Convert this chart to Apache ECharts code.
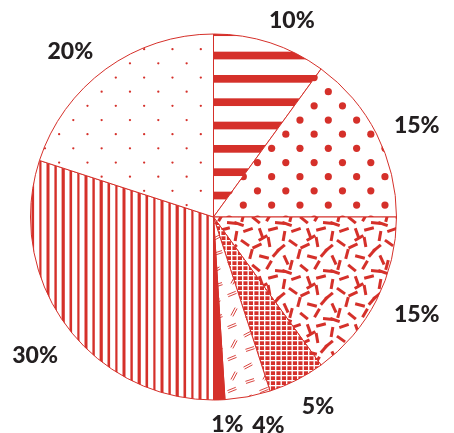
<!DOCTYPE html>
<html>
<head>
<meta charset="utf-8">
<script src="https://cdn.jsdelivr.net/npm/echarts@6/dist/echarts.min.js"></script>
<style>
html,body{margin:0;padding:0;background:#fff;}
#chart{position:absolute;left:0;top:0;width:454px;height:433px;}
</style>
</head>
<body>
<div id="chart"></div>
<script>
// ---- data ----
const categories = ['Stripes', 'Large dots', 'Confetti', 'Grid', 'Double dashes', 'Solid', 'Vertical stripes', 'Small dots'];
const values = [10, 15, 15, 5, 4, 1, 30, 20];

// ---- styles ----
const RED = '#d5302a';
const INK = '#231f20';

function tile(w, h, draw) {
  const c = document.createElement('canvas');
  c.width = w; c.height = h;
  const ctx = c.getContext('2d');
  ctx.fillStyle = '#fff';
  ctx.fillRect(0, 0, w, h);
  draw(ctx, w, h);
  return { image: c, repeat: 'repeat' };
}
function wrapped(w, h, fn) {
  for (let ox = -w; ox <= w; ox += w)
    for (let oy = -h; oy <= h; oy += h) fn(ox, oy);
}
function dotLattice(r) {
  return tile(85, 85, (ctx, w, h) => {
    ctx.fillStyle = RED;
    const s = 85 / 3, x0 = 73.3, y0 = 6.7;
    const pts = [];
    for (let i = 0; i < 3; i++) for (let j = 0; j < 3; j++) {
      pts.push([(x0 + i * s) % 85, (y0 + j * s) % 85]);
      pts.push([(x0 + s / 2 + i * s) % 85, (y0 + s / 2 + j * s) % 85]);
    }
    pts.forEach(p => wrapped(w, h, (ox, oy) => {
      ctx.beginPath(); ctx.arc(p[0] + ox, p[1] + oy, r, 0, Math.PI * 2); ctx.fill();
    }));
  });
}
const patHStripes = tile(4, 70, (ctx) => {
  ctx.fillStyle = RED;
  [5, 28.33, 51.67].forEach(y => ctx.fillRect(0, y, 4, 7.7));
});
const patBigDots = dotLattice(3.6);
const patSmallDots = dotLattice(1.15);
const patConfetti = tile(48, 48, (ctx, w, h) => {
  ctx.strokeStyle = RED; ctx.lineWidth = 3; ctx.lineCap = 'butt';
  const d = [[5,3,35],[17,6,-25],[29,2,80],[41,8,140],[11,14,105],[24,17,15],[36,13,-50],[46,20,65],
             [3,25,-75],[16,28,40],[29,25,120],[40,31,5],[8,38,160],[21,41,70],[33,37,-15],[44,44,100],
             [23,46,-30],[47,32,20]];
  d.forEach(([x, y, a]) => wrapped(w, h, (ox, oy) => {
    const t = a * Math.PI / 180, L = 5;
    ctx.beginPath();
    ctx.moveTo(x + ox - L * Math.cos(t), y + oy - L * Math.sin(t));
    ctx.lineTo(x + ox + L * Math.cos(t), y + oy + L * Math.sin(t));
    ctx.stroke();
  }));
});
const patGrid = tile(11, 10, (ctx) => {
  ctx.fillStyle = RED; ctx.fillRect(0, 0, 11, 10);
  ctx.fillStyle = '#fff';
  ctx.fillRect(0, 0, 1.4, 10); ctx.fillRect(5.5, 0, 1.4, 10);
  ctx.fillRect(0, 0, 11, 1.3); ctx.fillRect(0, 5, 11, 1.3);
});
const patDouble = tile(32, 32, (ctx, w, h) => {
  ctx.strokeStyle = RED; ctx.lineWidth = 0.9;
  const d = [[8,6,-22],[24,14,-28],[10,24,-62],[26,29,-18]];
  d.forEach(([x, y, a]) => wrapped(w, h, (ox, oy) => {
    const t = a * Math.PI / 180, L = 4.5, nx = -Math.sin(t) * 1.1, ny = Math.cos(t) * 1.1;
    [-1, 1].forEach(k => {
      ctx.beginPath();
      ctx.moveTo(x + ox - L * Math.cos(t) + k * nx, y + oy - L * Math.sin(t) + k * ny);
      ctx.lineTo(x + ox + L * Math.cos(t) + k * nx, y + oy + L * Math.sin(t) + k * ny);
      ctx.stroke();
    });
  }));
});
const patVStripes = tile(38, 4, (ctx) => {
  ctx.fillStyle = RED;
  const widths = [3.0, 2.4, 3.2, 2.6, 2.2];
  for (let i = 0; i < 5; i++) {
    let cx = (10 + i * 7.6) % 38;
    ctx.fillRect(cx - widths[i] / 2, 0, widths[i], 4);
    if (cx - widths[i] / 2 < 0) ctx.fillRect(cx + 38 - widths[i] / 2, 0, widths[i], 4);
  }
});
const fills = [patHStripes, patBigDots, patConfetti, patGrid, patDouble, RED, patVStripes, patSmallDots];

// label layout nudges (px) from a radial anchor
const labelNudge = [[11, 11], [9, 7.5], [9, -1], [5.5, -5], [14, -6], [7, -10], [-2, 10], [-15, 11]];

const CX = 213.5, CY = 217, R = 183, LR = 218;
const total = values.reduce((a, b) => a + b, 0);
const cum = values.map((v, i) => values.slice(0, i).reduce((a, b) => a + b, 0));

const chart = echarts.init(document.getElementById('chart'), null, { renderer: 'canvas' });
chart.setOption({
  animation: false,
  series: [{
    type: 'pie',
    center: [CX, CY],
    radius: R,
    startAngle: 90,
    clockwise: true,
    avoidLabelOverlap: false,
    silent: true,
    data: categories.map((n, i) => ({
      name: n, value: values[i],
      itemStyle: { color: fills[i] }
    })),
    itemStyle: { borderColor: RED, borderWidth: 1 },
    label: {
      show: true, position: 'outside', formatter: '{c}%',
      fontFamily: 'Lato', fontWeight: 900, fontSize: 23, color: INK
    },
    labelLine: { show: false },
    labelLayout: function (p) {
      const i = p.dataIndex;
      const a = (cum[i] + values[i] / 2) / total * Math.PI * 2;
      return {
        x: CX + LR * Math.sin(a) + labelNudge[i][0],
        y: CY - LR * Math.cos(a) + labelNudge[i][1],
        align: 'center', verticalAlign: 'middle'
      };
    },
    emphasis: { disabled: true }
  }]
});
</script>
</body>
</html>
